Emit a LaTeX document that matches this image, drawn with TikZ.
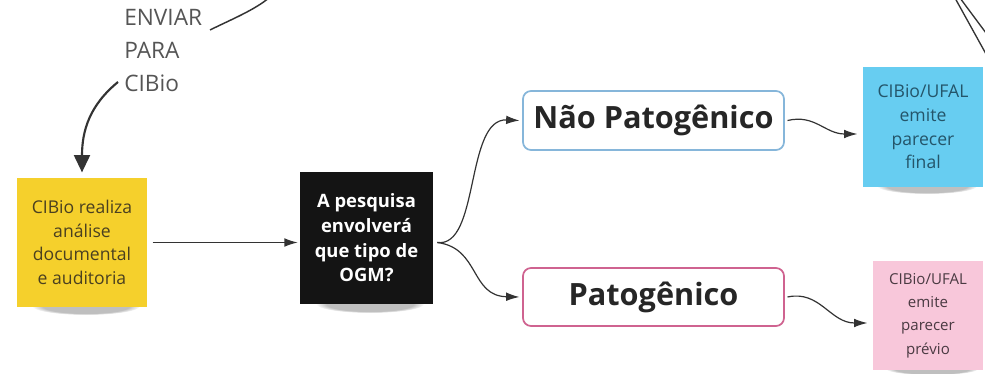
\documentclass[tikz,border=0pt]{standalone}
\usepackage{fontspec}
\setmainfont{Open Sans}
\usetikzlibrary{arrows.meta,fadings,positioning}
\definecolor{stickyyellow}{HTML}{F5D02C}
\definecolor{stickyblack}{HTML}{141414}
\definecolor{stickycyan}{HTML}{67CDF1}
\definecolor{stickypink}{HTML}{F8C7DA}
\definecolor{boxblue}{HTML}{86B6DA}
\definecolor{boxpink}{HTML}{CF6390}
\definecolor{graytext}{HTML}{555555}
\definecolor{linegray}{HTML}{333333}
\definecolor{yeltext}{HTML}{4A4020}
\definecolor{cyntext}{HTML}{24556A}
\definecolor{pnktext}{HTML}{4A3A42}
\tikzset{
  sticky/.style={rectangle, inner sep=0pt, align=center},
  roundbox/.style={rectangle, rounded corners=6pt, line width=1.3pt, fill=white, inner sep=0pt, font=\fontsize{23}{26}\selectfont\bfseries, text=black!85},
  conn/.style={line width=0.9pt, draw=linegray, -{Latex[length=10pt,width=6.5pt]}},
  shade/.style={fill=black, opacity=0.25, path fading=circle with fuzzy edge 20 percent}
}
\begin{document}
\begin{tikzpicture}[x=0.75pt,y=-0.75pt]
\useasboundingbox (0,0) rectangle (985,374);
% shadows
\fill[shade] (86,306) ellipse (54 and 9);
\fill[shade] (370,304) ellipse (54 and 9);
\fill[shade] (927,186) ellipse (50 and 8);
\fill[shade] (932,369) ellipse (46 and 6);
% sticky notes
\node[sticky, fill=stickyyellow, minimum width=97.5pt, minimum height=96.75pt,
  font=\fontsize{13.2}{17.6}\selectfont, text=yeltext] (yel) at (82,242.5)
  {CIBio realiza\\análise\\documental\\e auditoria};
\node[sticky, fill=stickyblack, minimum width=99.75pt, minimum height=99pt,
  font=\fontsize{13.8}{18.5}\selectfont\bfseries, text=white] (blk) at (366.5,238)
  {A pesquisa\\envolverá\\que tipo de\\OGM?};
\node[sticky, fill=stickycyan, minimum width=90pt, minimum height=90pt,
  font=\fontsize{13.2}{17.8}\selectfont, text=cyntext] (cyn) at (923,127)
  {CIBio/UFAL\\emite\\parecer\\final};
\node[sticky, fill=stickypink, minimum width=82.5pt, minimum height=81.75pt,
  font=\fontsize{11.3}{17.4}\selectfont, text=pnktext] (pnk) at (928,315.5)
  {CIBio/UFAL\\emite\\parecer\\prévio};
% rounded boxes
\node[roundbox, draw=boxblue, minimum width=195.75pt, minimum height=44.25pt] (nao) at (653.5,120.5) {Não Patogênico};
\node[roundbox, draw=boxpink, minimum width=195.75pt, minimum height=43.5pt] (pat) at (653.5,297) {Patogênico};
% text
\node[anchor=west, align=left, inner sep=0pt, font=\fontsize{17}{24.4}\selectfont, text=graytext] (env) at (124,50.5)
  {ENVIAR\\PARA\\CIBio};
% coordinates for free ends
\coordinate (envstart) at (210,30);
\coordinate (envend) at (270,-3);
\coordinate (cibstart) at (118,82);
\coordinate (tr1a) at (955,-2);
\coordinate (tr1b) at (986,54);
\coordinate (tr2a) at (960,-2);
\coordinate (tr2b) at (986,33);
% connectors
\draw[line width=1.1pt, draw=linegray] (envstart) .. controls (230,20) and (255,10) .. (envend);
\draw[line width=1.6pt, draw=linegray, -{Triangle[length=13pt,width=12pt]}] (cibstart) .. controls (90,105) and (82,130) .. ([yshift=4pt]yel.north);
\draw[conn] (yel.east) ++(4pt,0) coordinate (ye) (ye) -- ([xshift=-1.5pt]blk.west |- ye);
\draw[conn] ([xshift=3pt]blk.east |- ye) .. controls (480,248) and (465,118) .. ([xshift=-2pt]nao.west);
\draw[conn] ([xshift=3pt]blk.east |- ye) .. controls (480,248) and (470,296) .. ([xshift=-2pt]pat.west);
\draw[conn] ([xshift=2pt]nao.east) .. controls (815,114) and (825,134) .. ([xshift=-4pt]cyn.west |- 0,134) coordinate (cy1);
\draw[conn] ([xshift=2pt]pat.east) .. controls (820,290) and (830,323) .. ([xshift=-4pt]pnk.west |- 0,323) coordinate (pk1);
\draw[line width=1pt, draw=linegray] (tr1a) -- (tr1b);
\draw[line width=1pt, draw=linegray] (tr2a) -- (tr2b);
\end{tikzpicture}
\end{document}
